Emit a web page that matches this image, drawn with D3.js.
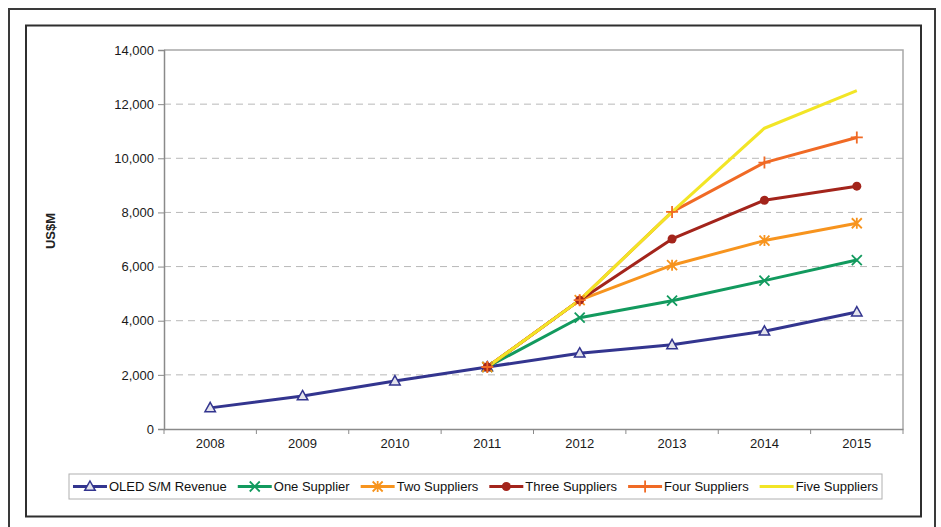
<!DOCTYPE html>
<html>
<head>
<meta charset="utf-8">
<script src="https://cdn.jsdelivr.net/npm/d3@7"></script>
<style>
  html, body { margin: 0; padding: 0; background: #fff; }
  svg { display: block; font-family: Arial, "Liberation Sans", sans-serif; }
</style>
</head>
<body>
<svg id="chart" width="941" height="527"></svg>
<script>
// ---- DATA ----
const years = ["2008", "2009", "2010", "2011", "2012", "2013", "2014", "2015"];
const yTicks = [0, 2000, 4000, 6000, 8000, 10000, 12000, 14000];

const oledRevenue   = [780, 1220, 1770, 2290, 2800, 3110, 3610, 4320];
const oneSupplier   = [null, null, null, 2290, 4110, 4740, 5480, 6240];
const twoSuppliers  = [null, null, null, 2290, 4760, 6050, 6960, 7600];
const threeSupplier = [null, null, null, 2290, 4760, 7020, 8450, 8970];
const fourSuppliers = [null, null, null, 2290, 4760, 8020, 9840, 10770];
const fiveSuppliers = [null, null, null, 2290, 4760, 8020, 11110, 12500];

const seriesNames = ["OLED S/M Revenue", "One Supplier", "Two Suppliers",
                     "Three Suppliers", "Four Suppliers", "Five Suppliers"];
const seriesValues = [oledRevenue, oneSupplier, twoSuppliers, threeSupplier, fourSuppliers, fiveSuppliers];
const seriesColors = ["#33358f", "#129a5e", "#f7941e", "#a3241b", "#f06a25", "#f2e526"];
const seriesMarkers = ["triangle", "x", "asterisk", "circle", "plus", "none"];

// ---- LAYOUT ----
const svg = d3.select("#chart");
const plot = { left: 164, right: 903, top: 50, bottom: 429 };

// frames
svg.append("rect")
  .attr("x", 9).attr("y", 9).attr("width", 926).attr("height", 540)
  .attr("fill", "none").attr("stroke", "#3a3a3a").attr("stroke-width", 2);
svg.append("rect")
  .attr("x", 26).attr("y", 25.5).attr("width", 895).attr("height", 491)
  .attr("fill", "none").attr("stroke", "#2f2f2f").attr("stroke-width", 2);

const x = d3.scaleBand().domain(years).range([plot.left, plot.right]);
const y = d3.scaleLinear().domain([0, 14000]).range([plot.bottom, plot.top]);

// gridlines
svg.append("g")
  .selectAll("line")
  .data(yTicks.filter(d => d > 0 && d < 14000))
  .join("line")
  .attr("x1", plot.left).attr("x2", plot.right)
  .attr("y1", d => y(d)).attr("y2", d => y(d))
  .attr("stroke", "#b8b8b8")
  .attr("stroke-dasharray", "7,5")
  .attr("stroke-width", 1);

// plot border (top/right)
svg.append("path")
  .attr("d", `M${plot.left},${plot.top}H${plot.right}V${plot.bottom}`)
  .attr("fill", "none").attr("stroke", "#a8a8a8").attr("stroke-width", 1.5);

// y axis
const yAxis = svg.append("g")
  .attr("transform", `translate(${plot.left},0)`)
  .call(d3.axisLeft(y).tickValues(yTicks).tickSize(6).tickPadding(4).tickFormat(d3.format(",")));
yAxis.select(".domain").attr("stroke", "#8a8a8a").attr("stroke-width", 1.5);
yAxis.selectAll(".tick line").attr("stroke", "#8a8a8a");
yAxis.selectAll("text").attr("font-size", 13).attr("fill", "#1a1a1a")
  .attr("font-family", "Arial, 'Liberation Sans', sans-serif");

// x axis
const xAxis = svg.append("g")
  .attr("transform", `translate(0,${plot.bottom})`)
  .call(d3.axisBottom(x).tickSize(0).tickPadding(10));
xAxis.select(".domain").attr("stroke", "#8a8a8a").attr("stroke-width", 1.5);
xAxis.selectAll("text").attr("font-size", 13).attr("fill", "#1a1a1a")
  .attr("font-family", "Arial, 'Liberation Sans', sans-serif");
// tick marks between categories
svg.append("g")
  .selectAll("line")
  .data(d3.range(years.length + 1))
  .join("line")
  .attr("x1", i => plot.left + i * x.step()).attr("x2", i => plot.left + i * x.step())
  .attr("y1", plot.bottom).attr("y2", plot.bottom + 5)
  .attr("stroke", "#8a8a8a");

// y label
svg.append("text")
  .attr("transform", `translate(55,231) rotate(-90)`)
  .attr("text-anchor", "middle")
  .attr("font-size", 13)
  .attr("font-weight", "bold")
  .attr("fill", "#222")
  .text("US$M");

// ---- MARKERS ----
function markerPath(type, s) {
  switch (type) {
    case "triangle": return `M0,${-s}L${s * 0.95},${s * 0.7}L${-s * 0.95},${s * 0.7}Z`;
    case "x": return `M${-s},${-s}L${s},${s}M${-s},${s}L${s},${-s}`;
    case "asterisk": return `M${-s},${-s}L${s},${s}M${-s},${s}L${s},${-s}M0,${-s * 1.1}V${s * 1.1}`;
    case "plus": return `M${-s * 1.2},0H${s * 1.2}M0,${-s * 1.2}V${s * 1.2}`;
    default: return "";
  }
}

function drawMarker(g, type, color, cx, cy) {
  if (type === "none") return;
  if (type === "circle") {
    g.append("circle").attr("cx", cx).attr("cy", cy).attr("r", 4.5).attr("fill", color);
  } else if (type === "triangle") {
    g.append("path").attr("d", markerPath(type, 5.5))
      .attr("transform", `translate(${cx},${cy})`)
      .attr("fill", "#e4e4ec").attr("stroke", color).attr("stroke-width", 1.5);
  } else {
    g.append("path").attr("d", markerPath(type, 5))
      .attr("transform", `translate(${cx},${cy})`)
      .attr("fill", "none").attr("stroke", color).attr("stroke-width", 1.8);
  }
}

// ---- LINES ----
const line = d3.line()
  .defined(d => d.v != null)
  .x(d => x(d.year) + x.bandwidth() / 2)
  .y(d => y(d.v));

const seriesData = seriesNames.map((name, i) => ({
  name,
  color: seriesColors[i],
  marker: seriesMarkers[i],
  points: years.map((yr, j) => ({ year: yr, v: seriesValues[i][j] }))
}));

const linesG = svg.append("g");
seriesData.forEach(s => {
  linesG.append("path")
    .datum(s.points)
    .attr("d", line)
    .attr("fill", "none")
    .attr("stroke", s.color)
    .attr("stroke-width", 3)
    .attr("stroke-linejoin", "round");
});

const markersG = svg.append("g");
seriesData.forEach(s => {
  s.points.filter(p => p.v != null).forEach(p => {
    drawMarker(markersG, s.marker, s.color, x(p.year) + x.bandwidth() / 2, y(p.v));
  });
});

// ---- LEGEND ----
const legBox = { x: 69, y: 474, w: 813, h: 25 };
svg.append("rect")
  .attr("x", legBox.x).attr("y", legBox.y).attr("width", legBox.w).attr("height", legBox.h)
  .attr("fill", "#fff").attr("stroke", "#b0b0b0").attr("stroke-width", 1);

const legG = svg.append("g");
const lineLen = 34, gapText = 2, gapItem = 11;
const items = seriesData.map(s => {
  const t = legG.append("text")
    .attr("font-size", 13).attr("fill", "#111")
    .attr("y", legBox.y + legBox.h / 2 + 4.5)
    .text(s.name);
  return { s, t, w: t.node().getComputedTextLength() };
});
const totalW = d3.sum(items, d => lineLen + gapText + d.w) + gapItem * (items.length - 1);
let cursor = legBox.x + (legBox.w - totalW) / 2;
const legY = legBox.y + legBox.h / 2;
items.forEach(it => {
  legG.append("line")
    .attr("x1", cursor).attr("x2", cursor + lineLen)
    .attr("y1", legY).attr("y2", legY)
    .attr("stroke", it.s.color).attr("stroke-width", 3);
  drawMarker(legG, it.s.marker, it.s.color, cursor + lineLen / 2, legY);
  it.t.attr("x", cursor + lineLen + gapText);
  cursor += lineLen + gapText + it.w + gapItem;
});
</script>
</body>
</html>
